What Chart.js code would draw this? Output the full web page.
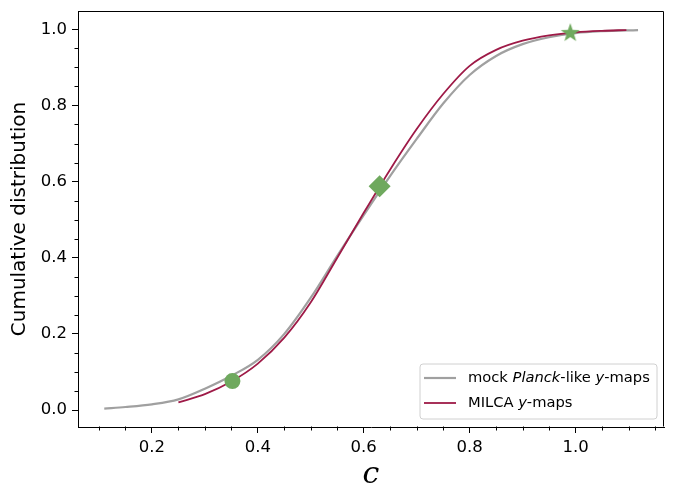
<!DOCTYPE html>
<html><head><meta charset="utf-8">
<script src="https://cdn.jsdelivr.net/npm/chart.js@4/dist/chart.umd.min.js"></script>
<style>html,body{margin:0;padding:0;background:#fff}#wrap{width:676px;height:484px}</style>
</head><body><div id="wrap"><canvas id="c" width="676" height="484"></canvas></div>
<script>
// ---- data ----
const mockX = [0.11,0.15,0.20,0.25,0.30,0.35,0.40,0.45,0.50,0.55,0.60,0.65,0.70,0.75,0.80,0.85,0.90,0.95,1.00,1.05,1.118];
const mockY = [0.004,0.008,0.015,0.028,0.056,0.090,0.132,0.200,0.295,0.405,0.512,0.615,0.712,0.805,0.880,0.930,0.961,0.979,0.990,0.995,0.998];
const milcaX = [0.25,0.30,0.35,0.40,0.45,0.50,0.55,0.60,0.65,0.70,0.75,0.80,0.85,0.90,0.95,1.00,1.05,1.096];
const milcaY = [0.020,0.042,0.075,0.122,0.190,0.283,0.400,0.518,0.632,0.738,0.830,0.904,0.946,0.970,0.984,0.992,0.996,0.998];
const markerX = [0.352,0.630,0.990];
const markerY = [0.076,0.588,0.990];
const xMajor = [0.2,0.4,0.6,0.8,1.0];
const xMajorLabels = ['0.2','0.4','0.6','0.8','1.0'];
const xMinor = [0.10,0.15,0.25,0.30,0.35,0.45,0.50,0.55,0.65,0.70,0.75,0.85,0.90,0.95,1.05,1.10,1.15];
const yMajor = [0.0,0.2,0.4,0.6,0.8,1.0];
const yMajorLabels = ['0.0','0.2','0.4','0.6','0.8','1.0'];
const yMinor = [0.05,0.10,0.15,0.25,0.30,0.35,0.45,0.50,0.55,0.65,0.70,0.75,0.85,0.90,0.95];
const legendRuns = [
  [['mock ',false],['Planck',true],['-like ',false],['y',true],['-maps',false]],
  [['MILCA ',false],['y',true],['-maps',false]]
];
const xTitle = 'c';
const yTitle = 'Cumulative distribution';

// ---- styles ----
const GRAY = '#a0a0a0', RED = '#9e1a47', GREEN = '#6fa95e';
const pts = (xs, ys) => xs.map((x, i) => ({x, y: ys[i]}));

function makeStar(rOut, color) {
  const s = Math.ceil(rOut * 2 + 2);
  const cv = document.createElement('canvas');
  cv.width = s; cv.height = s;
  const g = cv.getContext('2d');
  const cx = s / 2, cy = s / 2, rIn = rOut * 0.40;
  g.beginPath();
  for (let i = 0; i < 10; i++) {
    const r = i % 2 === 0 ? rOut : rIn;
    const a = -Math.PI / 2 + i * Math.PI / 5;
    const px = cx + r * Math.cos(a), py = cy + r * Math.sin(a);
    if (i === 0) g.moveTo(px, py); else g.lineTo(px, py);
  }
  g.closePath();
  g.fillStyle = color; g.fill();
  return cv;
}
const starImg = makeStar(10, GREEN);

const frameAndMinor = {
  id: 'frameAndMinor',
  afterDraw(chart) {
    const {ctx, chartArea: a, scales} = chart;
    ctx.save();
    ctx.strokeStyle = '#000'; ctx.lineWidth = 1;
    const L = Math.round(a.left) + 0.5, R = Math.round(a.right) - 0.5;
    const T = Math.round(a.top) + 0.5, B = Math.round(a.bottom) - 0.5;
    ctx.beginPath();
    ctx.moveTo(L, T); ctx.lineTo(R, T); ctx.lineTo(R, B); ctx.moveTo(L, T); ctx.lineTo(L, B);
    ctx.stroke();
    ctx.beginPath();
    xMinor.forEach(v => {
      const px = Math.round(scales.x.getPixelForValue(v)) + 0.5;
      ctx.moveTo(px, B); ctx.lineTo(px, B + 4);
    });
    yMinor.forEach(v => {
      const py = Math.round(scales.y.getPixelForValue(v)) + 0.5;
      ctx.moveTo(L, py); ctx.lineTo(L - 4, py);
    });
    ctx.stroke();
    ctx.restore();
  }
};

const customLegend = {
  id: 'customLegend',
  afterDraw(chart) {
    const {ctx, chartArea: a} = chart;
    const w = 237, h = 55;
    const x0 = a.right - 7 - w, y0 = a.bottom - 8 - h;
    ctx.save();
    ctx.beginPath();
    const r = 3;
    ctx.moveTo(x0 + r, y0); ctx.lineTo(x0 + w - r, y0); ctx.arcTo(x0 + w, y0, x0 + w, y0 + r, r);
    ctx.lineTo(x0 + w, y0 + h - r); ctx.arcTo(x0 + w, y0 + h, x0 + w - r, y0 + h, r);
    ctx.lineTo(x0 + r, y0 + h); ctx.arcTo(x0, y0 + h, x0, y0 + h - r, r);
    ctx.lineTo(x0, y0 + r); ctx.arcTo(x0, y0, x0 + r, y0, r);
    ctx.closePath();
    ctx.fillStyle = 'rgba(255,255,255,0.8)'; ctx.fill();
    ctx.strokeStyle = '#d0d0d0'; ctx.lineWidth = 1; ctx.stroke();
    const ds = chart.data.datasets;
    [0, 1].forEach(i => {
      const yy = y0 + 14 + i * 25;
      ctx.strokeStyle = ds[i].borderColor; ctx.lineWidth = ds[i].borderWidth;
      ctx.beginPath(); ctx.moveTo(x0 + 4, yy); ctx.lineTo(x0 + 36, yy); ctx.stroke();
      let tx = x0 + 48;
      ctx.fillStyle = '#000'; ctx.textBaseline = 'middle'; ctx.textAlign = 'left';
      legendRuns[i].forEach(([t, it]) => {
        ctx.font = (it ? 'italic ' : '') + '14.7px "DejaVu Sans"';
        ctx.fillText(t, tx, yy);
        tx += ctx.measureText(t).width;
      });
    });
    ctx.restore();
  }
};

new Chart(document.getElementById('c'), {
  type: 'scatter',
  data: {
    datasets: [
      {label: 'mock Planck-like y-maps', data: pts(mockX, mockY), showLine: true, borderColor: GRAY, borderWidth: 2.2, pointRadius: 0, cubicInterpolationMode: 'monotone', order: 3},
      {label: 'MILCA y-maps', data: pts(milcaX, milcaY), showLine: true, borderColor: RED, borderWidth: 1.8, pointRadius: 0, cubicInterpolationMode: 'monotone', order: 2},
      {label: 'circle', data: [{x: markerX[0], y: markerY[0]}], pointStyle: 'circle', pointRadius: 8, backgroundColor: GREEN, borderWidth: 0, order: 1},
      {label: 'diamond', data: [{x: markerX[1], y: markerY[1]}], pointStyle: 'rectRot', pointRadius: 11, backgroundColor: GREEN, borderWidth: 0, order: 1},
      {label: 'star', data: [{x: markerX[2], y: markerY[2]}], pointStyle: starImg, pointRadius: 10, backgroundColor: GREEN, borderWidth: 0, order: 1}
    ]
  },
  options: {
    responsive: false, animation: false, devicePixelRatio: 1,
    layout: {padding: {top: 10, right: 12, left: 0, bottom: 0}},
    plugins: {legend: {display: false}, tooltip: {enabled: false}},
    scales: {
      x: {
        type: 'linear', min: 0.0604, max: 1.167,
        afterBuildTicks: s => { s.ticks = xMajor.map(v => ({value: v})); },
        afterFit: s => { s.height = 57; s.paddingLeft = 0; s.paddingRight = 0; },
        grid: {display: true, drawOnChartArea: false, drawTicks: true, tickLength: 6, tickColor: '#000', tickWidth: 1},
        border: {display: true, color: '#000', width: 1},
        ticks: {autoSkip: false, maxRotation: 0, color: '#000', padding: 5, font: {family: 'DejaVu Sans', size: 16.5},
          callback: (v, i) => xMajorLabels[i]},
        title: {display: true, text: xTitle, color: '#000', font: {family: 'DejaVu Serif', style: 'italic', size: 30, lineHeight: 0.55}, padding: {top: 0, bottom: 1}}
      },
      y: {
        type: 'linear', min: -0.0445, max: 1.048,
        afterBuildTicks: s => { s.ticks = yMajor.map(v => ({value: v})); },
        afterFit: s => { s.width = 78; s.paddingTop = 0; s.paddingBottom = 0; },
        grid: {display: true, drawOnChartArea: false, drawTicks: true, tickLength: 6, tickColor: '#000', tickWidth: 1},
        border: {display: true, color: '#000', width: 1},
        ticks: {autoSkip: false, color: '#000', padding: 5, font: {family: 'DejaVu Sans', size: 16.5},
          callback: (v, i) => yMajorLabels[i]},
        title: {display: true, text: yTitle, color: '#000', font: {family: 'DejaVu Sans', size: 20}, padding: {top: 8, bottom: 0}}
      }
    }
  },
  plugins: [frameAndMinor, customLegend]
});
</script></body></html>
